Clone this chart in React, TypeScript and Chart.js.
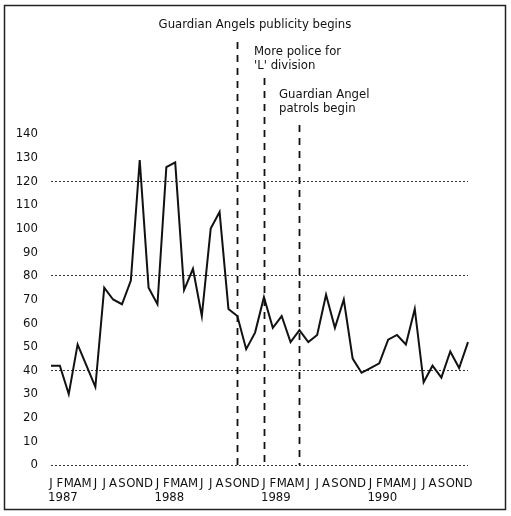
import React, { useEffect, useRef } from 'react';
import { Chart, registerables } from 'chart.js';

Chart.register(...registerables);

const FONT = "'Liberation Sans Narrow', 'DejaVu Sans Condensed', 'Arial Narrow', 'Roboto', sans-serif";

const monthLetters = ['J', 'F', 'M', 'A', 'M', 'J', 'J', 'A', 'S', 'O', 'N', 'D'];
const years = ['1987', '1988', '1989', '1990'];

const values1987 = [42, 42, 30, 51, 42, 33, 75, 70, 68, 78, 129, 75];
const values1988 = [68, 126, 128, 74, 83, 63, 100, 107, 66, 63, 49, 56];
const values1989 = [71, 58, 63, 52, 57, 52, 55, 72, 58, 70, 45, 39];
const values1990 = [41, 43, 53, 55, 51, 66, 35, 42, 37, 48, 41, 52];

const yTickStep = 10;
const yMax = 140;
const gridValues = [0, 40, 80, 120];

// index of the month where each event line is drawn
const eventIndex = [21, 24, 28];
const eventLines = [
  ['Guardian Angels publicity begins'],
  ['More police for', "'L' division"],
  ['Guardian Angel', 'patrols begin'],
];

const labels = years.flatMap(() => monthLetters);
const series = [...values1987, ...values1988, ...values1989, ...values1990];

const decorPlugin = {
  id: 'decor',
  afterDraw(chart: any) {
    const ctx = chart.ctx;
    const x = chart.scales.x;
    const y = chart.scales.y;
    ctx.save();
    // frame
    ctx.strokeStyle = '#222';
    ctx.lineWidth = 1.5;
    ctx.strokeRect(4.5, 5.5, 501, 504);

    // years
    ctx.fillStyle = '#111';
    ctx.font = `13px ${FONT}`;
    ctx.textAlign = 'left';
    ctx.textBaseline = 'middle';
    years.forEach((yr, k) => {
      ctx.fillText(yr, x.getPixelForValue(k * 12) - 3, 498);
    });

    // event dashed lines
    const tops = [42, 78, 125];
    ctx.strokeStyle = '#111';
    ctx.lineWidth = 1.8;
    ctx.setLineDash([7, 6]);
    eventIndex.forEach((idx, i) => {
      const px = Math.round(x.getPixelForValue(idx)) + 0.5;
      ctx.beginPath();
      ctx.moveTo(px, tops[i]);
      ctx.lineTo(px, y.getPixelForValue(0));
      ctx.stroke();
    });
    ctx.setLineDash([]);

    // event texts
    ctx.font = `13px ${FONT}`;
    ctx.textBaseline = 'middle';
    ctx.textAlign = 'center';
    ctx.fillText(eventLines[0][0], 255, 25);
    ctx.textAlign = 'left';
    ctx.fillText(eventLines[1][0], 254, 52);
    ctx.fillText(eventLines[1][1], 254, 66);
    ctx.fillText(eventLines[2][0], 279, 95);
    ctx.fillText(eventLines[2][1], 279, 109);
    ctx.restore();
  },
};

export default function App() {
  const ref = useRef<HTMLCanvasElement>(null);
  useEffect(() => {
    if (!ref.current) return;
    const chart = new Chart(ref.current, {
      type: 'line',
      data: {
        labels,
        datasets: [
          {
            data: series,
            borderColor: '#111',
            borderWidth: 2,
            pointRadius: 0,
            tension: 0,
            fill: false,
          },
        ],
      },
      options: {
        animation: false,
        responsive: false,
        devicePixelRatio: 1,
        layout: { padding: { top: 134, right: 43, left: 0, bottom: 0 } },
        plugins: { legend: { display: false }, tooltip: { enabled: false } },
        scales: {
          x: {
            type: 'category',
            offset: false,
            grid: { display: false },
            border: { display: false },
            ticks: {
              autoSkip: false,
              maxRotation: 0,
              minRotation: 0,
              padding: 3,
              color: '#111',
              font: { family: FONT, size: 13 },
            },
            afterFit: (s: any) => {
              s.height = 51;
            },
          },
          y: {
            min: 0,
            max: yMax,
            ticks: {
              stepSize: yTickStep,
              padding: 13,
              color: '#111',
              font: { family: FONT, size: 13 },
            },
            grid: {
              drawTicks: false,
              lineWidth: 1,
              color: (c: any) =>
                c.tick && gridValues.includes(c.tick.value) ? '#333' : 'rgba(0,0,0,0)',
            },
            border: { display: false, dash: [2, 2] },
            afterFit: (s: any) => {
              s.width = 51;
            },
          },
        },
      },
      plugins: [decorPlugin],
    });
    return () => chart.destroy();
  }, []);
  return (
    <div style={{ position: 'absolute', left: 0, top: 0, width: 511, height: 516, background: '#fff' }}>
      <canvas ref={ref} width={511} height={516} />
    </div>
  );
}
